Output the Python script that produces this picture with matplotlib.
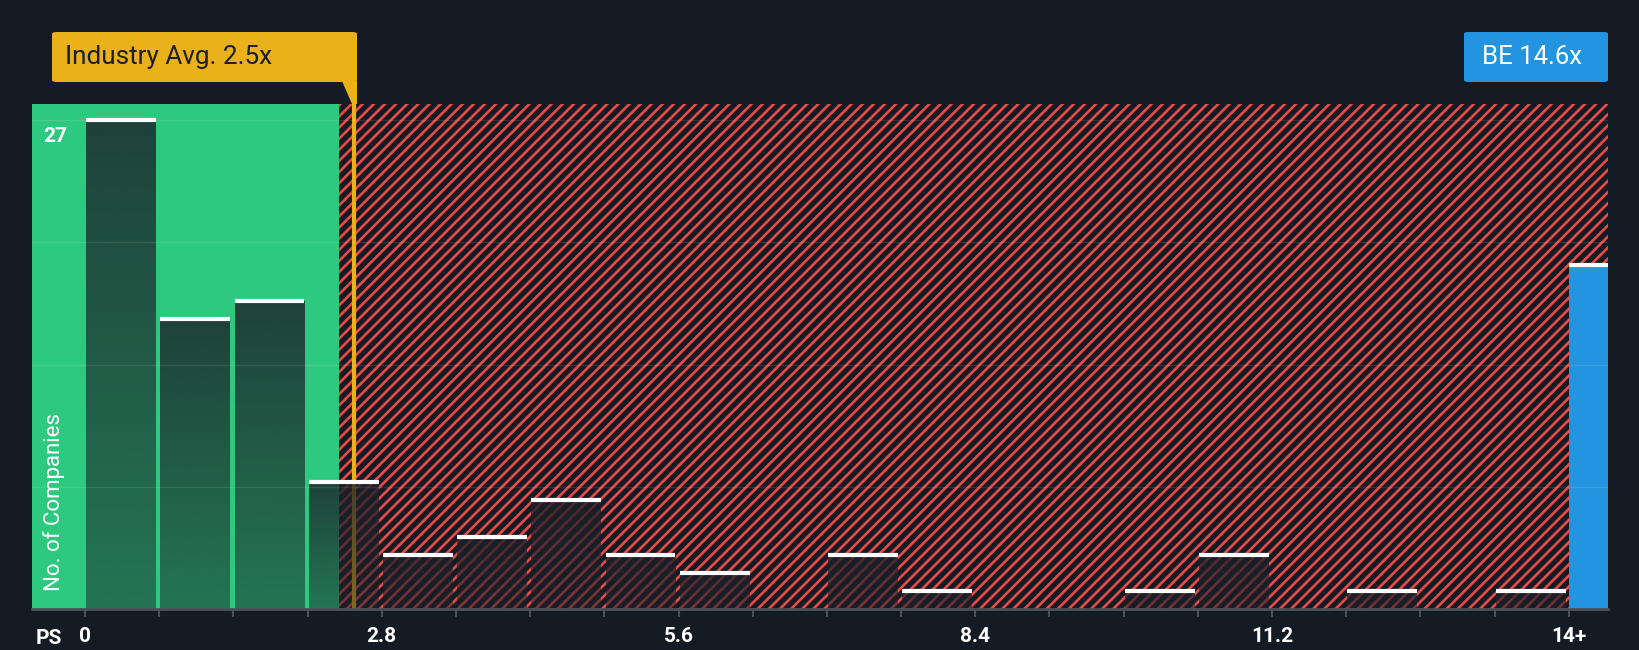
"""Price-to-sales histogram: industry peers vs BE."""

import matplotlib

matplotlib.use("Agg")
import matplotlib.pyplot as plt
import numpy as np
from matplotlib.patches import FancyBboxPatch, Polygon

plt.rcParams["font.family"] = ["Roboto", "DejaVu Sans"]
plt.rcParams["hatch.linewidth"] = 1.9

# data
BIN_LEFTS = [0.0, 0.7, 1.4, 2.1, 2.8, 3.5, 4.2, 4.9, 5.6, 6.3,
             7.0, 7.7, 8.4, 9.1, 9.8, 10.5, 11.2, 11.9, 12.6, 13.3]
COUNTS = [27, 16, 17, 7, 3, 4, 6, 3, 2, 0, 3, 1, 0, 0, 1, 3, 0, 1, 0, 1]
BIN_WIDTH = 0.7
GRID_LEVELS = [6.75, 13.5, 20.25, 27]
TICK_VALUES = [0, 2.8, 5.6, 8.4, 11.2, 14]
TICK_LABELS = ["0", "2.8", "5.6", "8.4", "11.2", "14+"]
INDUSTRY_AVG = 2.54
FAIR_EDGE = 2.4
BE_X = 14.0
BE_COUNT = 19

BG = "#151b24"
GREEN = "#2dc97e"
RED = "#ea4a45"
YELLOW = "#eab11a"
BLUE = "#2394df"
AXIS_GREY = "#4b5059"

W, H = 1640, 650
fig = plt.figure(figsize=(W / 100, H / 100), dpi=100, facecolor=BG)
ax = fig.add_axes([32 / W, 1 - 609 / H, (1608 - 32) / W, (609 - 104) / H])
ax.set_facecolor(BG)
x_min, x_max = -0.5, 14.37
ax.set_xlim(x_min, x_max)
ax.set_ylim(0, 27.9)

# background zones
ax.axvspan(x_min, FAIR_EDGE, color=GREEN, lw=0, zorder=0)
ax.axvspan(FAIR_EDGE, x_max, facecolor=BG, edgecolor=RED, hatch="///", lw=0, zorder=0)

# industry average line
ax.axvline(INDUSTRY_AVG, color=YELLOW, lw=3, zorder=1)

# histogram bars with a vertical fade
bar_rgb = np.array([27, 32, 41]) / 255
for left, count in zip(BIN_LEFTS, COUNTS):
    if count == 0:
        continue
    x0, x1 = left + 0.012, left + BIN_WIDTH - 0.03
    patch = ax.bar(x0, count, width=x1 - x0, align="edge",
                   facecolor="none", lw=0, zorder=2)[0]
    grad = np.zeros((64, 1, 4))
    grad[..., :3] = bar_rgb
    grad[:, 0, 3] = np.linspace(0.5, 0.8, 64)
    im = ax.imshow(grad, extent=(x0, x1, 0, count), origin="lower",
                   aspect="auto", interpolation="bilinear", zorder=2)
    im.set_clip_path(patch)
    ax.plot([x0, x1], [count, count], color="white", lw=3,
            solid_capstyle="butt", zorder=3)

# the company itself
ax.bar(BE_X, BE_COUNT, width=x_max - BE_X, align="edge", color=BLUE, lw=0, zorder=2)
ax.plot([BE_X, x_max], [BE_COUNT, BE_COUNT], color="white", lw=3,
        solid_capstyle="butt", zorder=3)

for level in GRID_LEVELS:
    ax.axhline(level, color="white", alpha=0.1, lw=1, zorder=4)

# axes styling
for side in ["top", "right", "left"]:
    ax.spines[side].set_visible(False)
ax.spines["bottom"].set_color(AXIS_GREY)
ax.spines["bottom"].set_linewidth(2)
ax.spines["bottom"].set_zorder(5)
ax.set_yticks([])
ax.set_xticks(TICK_VALUES)
ax.set_xticklabels(TICK_LABELS, color="white", fontsize=15, fontweight="bold")
ax.set_xticks(BIN_LEFTS + [BE_X], minor=True)
ax.tick_params(axis="x", which="both", length=6, width=1.5, color=AXIS_GREY,
               pad=7)

ax.text(-0.39, 26.1, "27", color="white", fontsize=15, fontweight="bold",
        ha="left", va="center", zorder=6)
ax.text(-0.29, 1.0, "No. of Companies", color="white", fontsize=16,
        rotation=90, ha="center", va="bottom", zorder=6)
fig.text(36 / W, 1 - 638 / H, "PS", color="white", fontsize=15,
         fontweight="bold", ha="left", va="center")


def px_box(x0, y0, x1, y1, color):
    fig.add_artist(FancyBboxPatch(
        (x0 / W, 1 - y1 / H), (x1 - x0) / W, (y1 - y0) / H,
        boxstyle="round,pad=0,rounding_size=0.003", facecolor=color,
        edgecolor="none", transform=fig.transFigure))


# industry average callout
px_box(52, 32, 357, 82, YELLOW)
pointer = [(342, 81), (357, 81), (357, 104), (352, 104)]
fig.add_artist(Polygon([(x / W, 1 - y / H) for x, y in pointer], closed=True,
                       facecolor=YELLOW, edgecolor="none",
                       transform=fig.transFigure))
fig.text(65 / W, 1 - 57 / H, f"Industry Avg. {2.5}x", color="#1a1f29",
         fontsize=18.8, ha="left", va="center")

# company callout
px_box(1464, 32, 1608, 82, BLUE)
fig.text(1482 / W, 1 - 57 / H, "BE 14.6x", color="white", fontsize=18.5,
         ha="left", va="center")

fig.savefig("out.png", dpi=100, facecolor=BG)
plt.close(fig)
